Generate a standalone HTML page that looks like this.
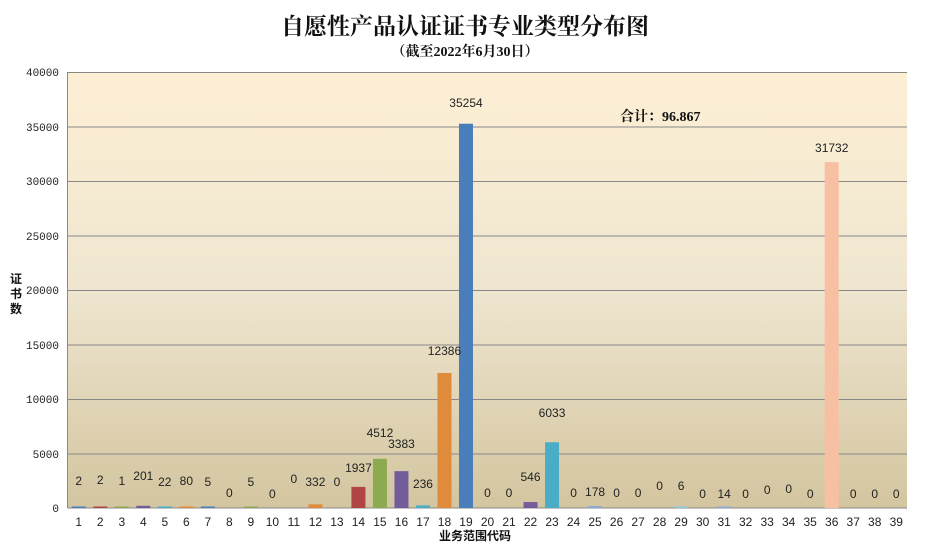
<!DOCTYPE html>
<html><head><meta charset="utf-8"><style>
body{margin:0;background:#fff;}
svg{display:block;font-family:"Liberation Sans","Noto Sans CJK SC",sans-serif;}
</style></head><body>
<svg width="927" height="550" viewBox="0 0 927 550" xmlns="http://www.w3.org/2000/svg">
<defs><linearGradient id="bg" x1="0" y1="0" x2="0" y2="1">
<stop offset="0" stop-color="#fdefd4"/><stop offset="0.5" stop-color="#efe6d0"/><stop offset="1" stop-color="#d3c59f"/></linearGradient></defs>
<text x="465" y="34" text-anchor="middle" font-family="'Noto Serif CJK SC',serif" font-weight="bold" font-size="23" fill="#111">自愿性产品认证证书专业类型分布图</text>
<text x="465" y="56" text-anchor="middle" font-family="'Liberation Serif','Noto Serif CJK SC',serif" font-weight="bold" font-size="14" fill="#111">（截至2022年6月30日）</text>
<rect x="68" y="72" width="839" height="436" fill="url(#bg)"/>
<g stroke="#888" stroke-width="1">
<line x1="68" y1="72.5" x2="907" y2="72.5"/><line x1="68" y1="127" x2="907" y2="127"/><line x1="68" y1="181.5" x2="907" y2="181.5"/><line x1="68" y1="236" x2="907" y2="236"/><line x1="68" y1="290.5" x2="907" y2="290.5"/><line x1="68" y1="345" x2="907" y2="345"/><line x1="68" y1="399.5" x2="907" y2="399.5"/><line x1="68" y1="454" x2="907" y2="454"/><line x1="68" y1="508" x2="907" y2="508"/><line x1="67.5" y1="72" x2="67.5" y2="508"/>
</g>
<g font-size="11" fill="#222" text-anchor="end" font-family="'Liberation Mono',monospace">
<text x="59" y="76">40000</text><text x="59" y="131">35000</text><text x="59" y="185">30000</text><text x="59" y="240">25000</text><text x="59" y="294">20000</text><text x="59" y="349">15000</text><text x="59" y="403">10000</text><text x="59" y="458">5000</text><text x="59" y="512">0</text>
</g>
<g font-size="12" font-weight="bold" fill="#111" text-anchor="middle" font-family="'Noto Sans CJK SC',sans-serif">
<text x="16" y="283">证</text><text x="16" y="298">书</text><text x="16" y="313">数</text>
</g>
<text x="475" y="540" text-anchor="middle" font-size="12" font-weight="bold" font-family="'Noto Sans CJK SC',sans-serif" fill="#111">业务范围代码</text>
<text x="620" y="121" font-size="14" font-weight="bold" font-family="'Liberation Serif','Noto Serif CJK SC',serif" fill="#111">合计：96.867</text>
<g id="bars"></g>
<g id="labels" font-size="12" fill="#222" text-anchor="middle"></g>
<g id="xl" font-size="12" fill="#222" text-anchor="middle"></g>
</svg>
<script>
var v=[2,2,1,201,22,80,5,0,5,0,0,332,0,1937,4512,3383,236,12386,35254,0,0,546,6033,0,178,0,0,0,6,0,14,0,0,0,0,31732,0,0,0];
var ly=[481,480,481,476,482,481,482,493,482,494,479,482,482,468,433,444,484,351,103,493,493,477,413,493,492,493,493,486,486,494,494,494,490,489,494,148,494,494,494];
var c1=["#4a7ebb","#b04545","#8cab50","#735c9a","#4bacc6","#e08a3c"];
var c2=["#8ea9d4","#d48a88","#b8cc8c","#a896c0","#8cc8d8","#f8c0a3"];
var ns="http://www.w3.org/2000/svg",w=839/39;
var B=document.getElementById("bars"),L=document.getElementById("labels"),X=document.getElementById("xl");
for(var i=0;i<39;i++){
 var cx=68+w*(i+0.5),h=v[i]*436/40000;
 var col=(i<24?c1:c2)[i%6];
 if(v[i]>0){var r=document.createElementNS(ns,"rect");r.setAttribute("x",cx-7);r.setAttribute("width",14);
 var hh=Math.max(h,1.5);r.setAttribute("y",508-hh);r.setAttribute("height",hh);r.setAttribute("fill",col);B.appendChild(r);}
 var t=document.createElementNS(ns,"text");t.setAttribute("x",cx);t.setAttribute("y",ly[i]+4);t.textContent=v[i];L.appendChild(t);
 var t2=document.createElementNS(ns,"text");t2.setAttribute("x",cx);t2.setAttribute("y",526);t2.textContent=i+1;X.appendChild(t2);
}
</script>
</body></html>
